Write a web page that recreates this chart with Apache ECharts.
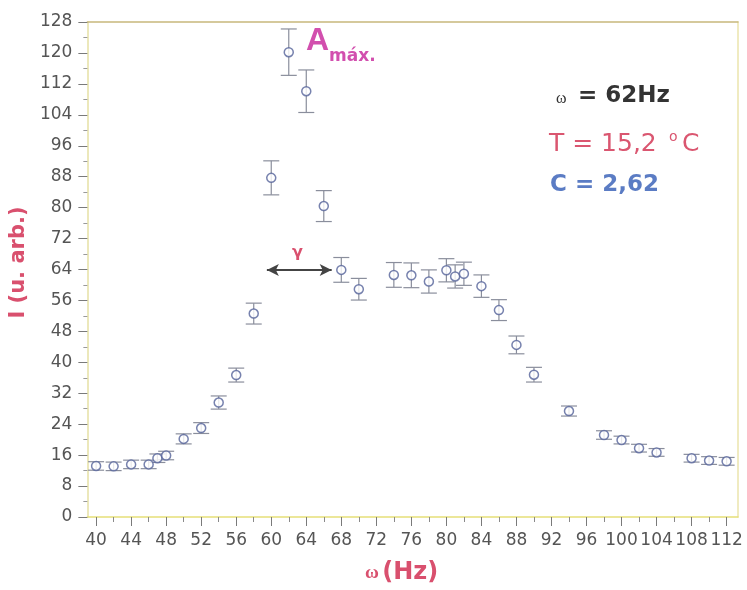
<!DOCTYPE html>
<html>
<head>
<meta charset="utf-8">
<title>Resonância — I (u. arb.) vs ω (Hz)</title>
<script src="https://cdn.jsdelivr.net/npm/echarts@6/dist/echarts.min.js"></script>
<style>
  html, body { margin: 0; padding: 0; background: #ffffff; }
  #chart { width: 747px; height: 590px; }
</style>
</head>
<body>
<div id="chart"></div>
<script>
// Measured frequency (Hz), intensity (arbitrary units) and its uncertainty
const freq = [40, 42, 44, 46, 47, 48, 50, 52, 54, 56, 58, 60, 62, 64, 66, 68, 70,
              74, 76, 78, 80, 81, 82, 84, 86, 88, 90, 94, 98, 100, 102, 104, 108, 110, 112];
const intensity = [13.2, 13.1, 13.6, 13.6, 15.2, 15.9, 20.2, 23.0, 29.6, 36.7, 52.6, 87.7, 120.2, 110.1, 80.4, 63.9, 58.9,
                   62.6, 62.5, 60.9, 63.8, 62.2, 62.9, 59.7, 53.5, 44.5, 36.8, 27.4, 21.2, 19.9, 17.8, 16.7, 15.2, 14.6, 14.4];
const errors = [1.1, 1.1, 1.1, 1.1, 1.1, 1.1, 1.3, 1.4, 1.7, 1.8, 2.7, 4.4, 6.0, 5.5, 4.0, 3.2, 2.8,
                3.2, 3.2, 3.0, 3.0, 3.0, 3.0, 2.9, 2.7, 2.3, 1.9, 1.3, 1.1, 1.0, 1.0, 1.0, 1.0, 1.0, 1.0];

// Axis ticks and labels
const xMajorTicks = [40, 44, 48, 52, 56, 60, 64, 68, 72, 76, 80, 84, 88, 92, 96, 100, 104, 108, 112];
const xMinorTicks = [42, 46, 50, 54, 58, 62, 66, 70, 74, 78, 82, 86, 90, 94, 98, 102, 106, 110];

// Width of the resonance (γ) and its height
const gammaFrom = 59.5;
const gammaTo = 66.9;
const gammaLevel = 63.9;

const X_MIN = 39, X_MAX = 113.3;
const tickFont = 'DejaVu Sans';
const markerColor = '#55639a';
const barColor = '#8a8e9c';

const points = freq.map((f, i) => [f, intensity[i], errors[i]]);

const chart = echarts.init(document.getElementById('chart'), null, { renderer: 'canvas' });

chart.setOption({
  animation: false,
  backgroundColor: '#ffffff',
  grid: { left: 87, right: 9, top: 22, bottom: 67, containLabel: false },
  xAxis: [
    {
      type: 'value', min: X_MIN, max: X_MAX, position: 'bottom',
      axisLine: { lineStyle: { color: '#e6df78', width: 1.5 } },
      axisTick: { show: true, inside: false, length: 9, customValues: xMajorTicks,
                  lineStyle: { color: '#7a7a7a', width: 1 } },
      axisLabel: { customValues: xMajorTicks, margin: 15, color: '#555', fontFamily: tickFont, fontSize: 17 },
      splitLine: { show: false },
      name: '{w|ω} {h|(Hz)}', nameLocation: 'middle', nameGap: 44,
      nameTextStyle: {
        padding: [0, 22, 0, 0],
        rich: {
          w: { fontFamily: 'Liberation Serif', fontSize: 19, color: '#d9506e', fontWeight: 'bold' },
          h: { fontFamily: 'DejaVu Sans', fontSize: 24, color: '#d9506e', fontWeight: 'bold' }
        }
      }
    },
    {
      type: 'value', min: X_MIN, max: X_MAX, position: 'bottom',
      axisLine: { show: false },
      axisTick: { show: true, inside: false, length: 5, customValues: xMinorTicks,
                  lineStyle: { color: '#8a8a8a', width: 1 } },
      axisLabel: { show: false },
      splitLine: { show: false }
    },
    {
      type: 'value', min: X_MIN, max: X_MAX, position: 'top',
      axisLine: { lineStyle: { color: '#c8b87c', width: 1.5 } },
      axisTick: { show: false }, axisLabel: { show: false }, splitLine: { show: false }
    }
  ],
  yAxis: [
    {
      type: 'value', min: 0, max: 128, interval: 8, position: 'left',
      axisLine: { show: true, lineStyle: { color: '#e6e0a4', width: 1.5 } },
      axisTick: { show: true, inside: false, length: 9, lineStyle: { color: '#7a7a7a' } },
      minorTick: { show: true, splitNumber: 2, length: 4, lineStyle: { color: '#9a9a9a' } },
      axisLabel: { margin: 15, color: '#555', fontFamily: tickFont, fontSize: 17 },
      splitLine: { show: false },
      name: 'I (u. arb.)', nameLocation: 'middle', nameRotate: 90, nameGap: 52,
      nameTextStyle: { fontFamily: 'DejaVu Sans', fontSize: 21, fontWeight: 'bold', color: '#d9506e',
                       padding: [0, 0, 0, 14] }
    },
    {
      type: 'value', min: 0, max: 128, position: 'right',
      axisLine: { show: true, lineStyle: { color: '#ebe5ac', width: 1.5 } },
      axisTick: { show: false }, axisLabel: { show: false }, splitLine: { show: false }
    }
  ],
  series: [
    {
      // vertical error bars with caps
      type: 'custom',
      xAxisIndex: 0, yAxisIndex: 0,
      z: 2,
      silent: true,
      data: points,
      renderItem: function (params, api) {
        const x = api.value(0), y = api.value(1), e = api.value(2);
        const top = api.coord([x, y + e]);
        const bot = api.coord([x, y - e]);
        const half = 8;
        const style = { stroke: barColor, lineWidth: 1.2, fill: null };
        return {
          type: 'group',
          children: [
            { type: 'line', shape: { x1: top[0], y1: top[1], x2: bot[0], y2: bot[1] }, style: style },
            { type: 'line', shape: { x1: top[0] - half, y1: top[1], x2: top[0] + half, y2: top[1] }, style: style },
            { type: 'line', shape: { x1: bot[0] - half, y1: bot[1], x2: bot[0] + half, y2: bot[1] }, style: style }
          ]
        };
      }
    },
    {
      type: 'scatter',
      xAxisIndex: 0, yAxisIndex: 0,
      z: 3,
      symbol: 'circle',
      symbolSize: 9,
      data: points.map(p => [p[0], p[1]]),
      itemStyle: { color: '#ffffff', borderColor: markerColor, borderWidth: 1.5 },
      markLine: {
        silent: true,
        symbol: ['arrow', 'arrow'],
        symbolSize: [9, 12],
        label: { show: false },
        lineStyle: { color: '#444444', width: 2, type: 'solid' },
        data: [[{ coord: [gammaFrom, gammaLevel] }, { coord: [gammaTo, gammaLevel] }]]
      }
    }
  ],
  graphic: [
    { type: 'text', left: 306, top: 25,
      style: { text: 'A', fontFamily: 'Liberation Sans', fontSize: 32, fontWeight: 'bold', fill: '#d24fae' } },
    { type: 'text', left: 329, top: 48,
      style: { text: 'máx.', fontFamily: 'DejaVu Sans', fontSize: 17, fontWeight: 'bold', fill: '#d24fae' } },
    { type: 'text', left: 292, top: 245,
      style: { text: 'γ', fontFamily: 'DejaVu Sans', fontSize: 16, fontWeight: 'bold', fill: '#d9506e' } },
    { type: 'text', left: 556, top: 91,
      style: { text: 'ω', fontFamily: 'Liberation Serif', fontSize: 16, fill: '#333333' } },
    { type: 'text', left: 578, top: 85,
      style: { text: '= 62Hz', fontFamily: 'DejaVu Sans', fontSize: 23, fontWeight: 'bold', fill: '#333333' } },
    { type: 'text', left: 549, top: 132,
      style: { text: 'T = 15,2', fontFamily: 'DejaVu Sans', fontSize: 25, fill: '#da5670' } },
    { type: 'text', left: 669, top: 130,
      style: { text: 'o', fontFamily: 'DejaVu Sans', fontSize: 14, fill: '#da5670' } },
    { type: 'text', left: 682, top: 132,
      style: { text: 'C', fontFamily: 'DejaVu Sans', fontSize: 25, fill: '#da5670' } },
    { type: 'text', left: 550, top: 174,
      style: { text: 'C = 2,62', fontFamily: 'DejaVu Sans', fontSize: 23, fontWeight: 'bold', fill: '#5b7cc4' } }
  ]
});
</script>
</body>
</html>
